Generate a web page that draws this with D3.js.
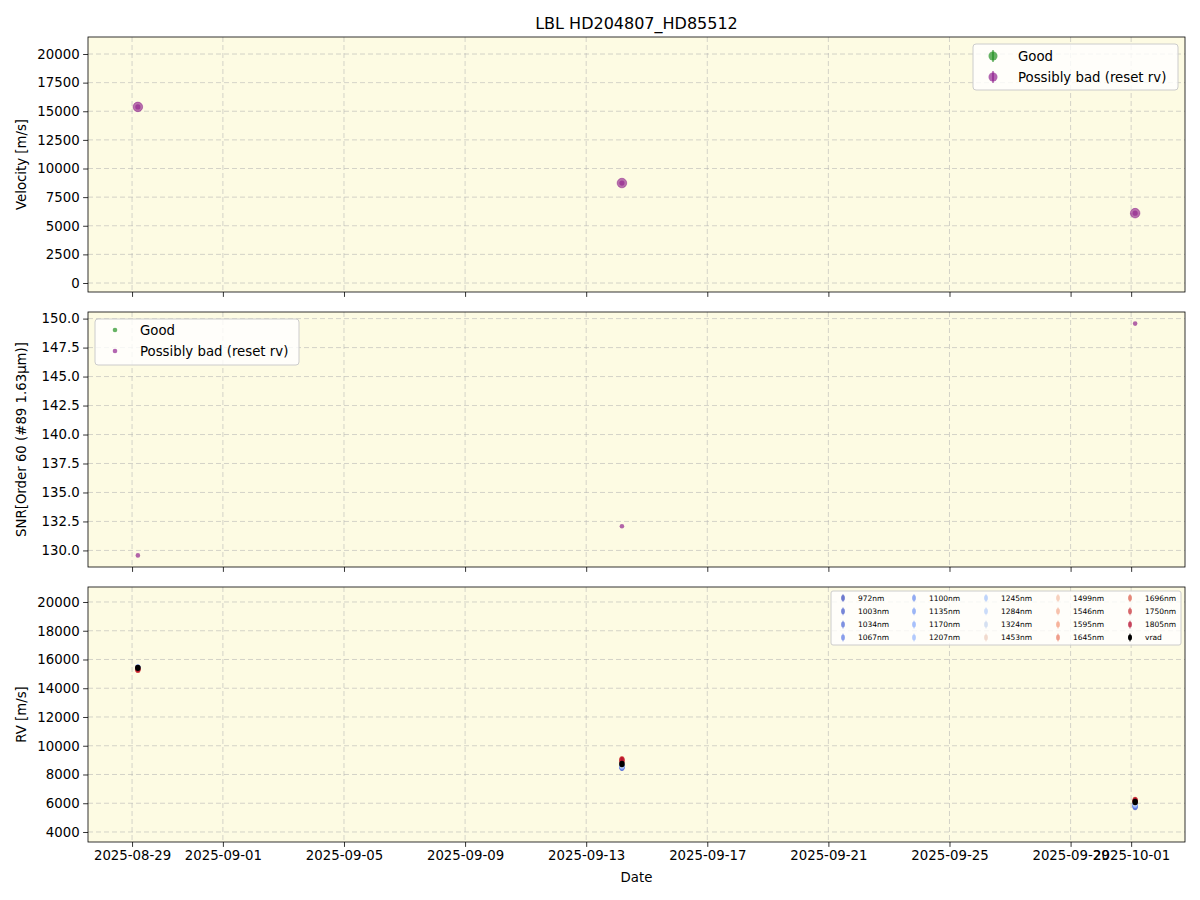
<!DOCTYPE html>
<html><head><meta charset="utf-8">
<script src="https://cdn.jsdelivr.net/npm/d3@7"></script>
<style>body{margin:0;background:#fff} text{font-family:"DejaVu Sans",sans-serif;fill:#000}</style>
</head><body><svg id="c" width="1200" height="900"></svg>
<script>
const title = "LBL HD204807_HD85512";
const dates = ["2025-08-29T04:36:00Z", "2025-09-14T04:20:00Z", "2025-10-01T03:10:00Z"];
const velocity = [15380, 8730, 6100];
const snr = [129.57, 132.08, 149.57];
const vrad = [15420, 8730, 6090];
const wavelengths = ["972nm","1003nm","1034nm","1067nm","1100nm","1135nm","1170nm","1207nm","1245nm","1284nm","1324nm","1453nm","1499nm","1546nm","1595nm","1645nm","1696nm","1750nm","1805nm"];
const rvEpoch1 = [15380,15400,15360,15410,15390,15420,15370,15400,15430,15410,15380,15350,15320,15300,15340,15310,15330,15290,15360];
const rvEpoch2 = [8480,8520,8550,8500,8560,8600,8580,8620,8650,8700,8680,8800,8850,8900,8950,9000,9050,9020,8980];
const rvEpoch3 = [5750,5800,5850,5780,5870,5900,5950,5930,6000,6050,6020,6100,6120,6150,6180,6200,6170,6220,6160];
const xTicks = ["2025-08-29","2025-09-01","2025-09-05","2025-09-09","2025-09-13","2025-09-17","2025-09-21","2025-09-25","2025-09-29","2025-10-01"];
const velTicks = [0,2500,5000,7500,10000,12500,15000,17500,20000];
const snrTicks = [130.0,132.5,135.0,137.5,140.0,142.5,145.0,147.5,150.0];
const rvTicks = [4000,6000,8000,10000,12000,14000,16000,18000,20000];

const svg = d3.select("#c");
const L = 88, R = 1185;
const panels = [[37,292],[312,567],[587,842]];
const bg = "#fdfbe3";
const parse = d3.utcParse("%Y-%m-%dT%H:%M:%SZ");
const pd = d3.utcParse("%Y-%m-%d");
const t = dates.map(parse);
const tmin = d3.min(t), tmax = d3.max(t), span = tmax - tmin;
const x = d3.scaleUtc().domain([new Date(+tmin - 0.05*span), new Date(+tmax + 0.05*span)]).range([L, R]);
const tickDates = xTicks.map(pd);

const coolwarm = d3.piecewise(d3.interpolateRgb, ["#3b4cc0","#6282ea","#8db0fe","#b8d0f9","#dddddd","#f5c4ac","#f4987a","#dc5d4a","#b40426"]);
const wnum = wavelengths.map(w=>parseFloat(w));
const wscale = d3.scaleLinear().domain(d3.extent(wnum)).range([0,1]);
const wcol = wnum.map(w=>coolwarm(wscale(w)));

function panel(idx, domain, ticks, fmt, label, showX) {
  const [top, bot] = panels[idx];
  const y = d3.scaleLinear().domain(domain).range([bot, top]);
  const g = svg.append("g");
  g.append("rect").attr("x",L).attr("y",top).attr("width",R-L).attr("height",bot-top).attr("fill",bg);
  g.selectAll(".gx").data(tickDates).enter().append("line")
    .attr("x1",d=>x(d)).attr("x2",d=>x(d)).attr("y1",top).attr("y2",bot)
    .attr("stroke","#b0b0b0").attr("stroke-opacity",0.6).attr("stroke-dasharray","5,3").attr("stroke-width",0.9);
  g.selectAll(".gy").data(ticks).enter().append("line")
    .attr("x1",L).attr("x2",R).attr("y1",d=>y(d)).attr("y2",d=>y(d))
    .attr("stroke","#b0b0b0").attr("stroke-opacity",0.6).attr("stroke-dasharray","5,3").attr("stroke-width",0.9);
  const ya = d3.axisLeft(y).tickValues(ticks).tickFormat(fmt).tickSize(4.9).tickPadding(3.5);
  const ga = g.append("g").attr("transform",`translate(${L},0)`).call(ya);
  ga.select(".domain").remove();
  ga.selectAll("text").style("font-size","13.3px").style("font-family","DejaVu Sans");
  ga.selectAll("line").attr("stroke-width",0.8);
  const xa = d3.axisBottom(x).tickValues(tickDates).tickFormat(showX ? d3.utcFormat("%Y-%m-%d") : "").tickSize(4.9).tickPadding(3.5);
  const gx = g.append("g").attr("transform",`translate(0,${bot})`).call(xa);
  gx.select(".domain").remove();
  gx.selectAll("text").style("font-size","13.3px").style("font-family","DejaVu Sans");
  gx.selectAll("line").attr("stroke-width",0.8);
  g.append("rect").attr("x",L).attr("y",top).attr("width",R-L).attr("height",bot-top).attr("fill","none").attr("stroke","#000").attr("stroke-width",0.8);
  g.append("text").attr("transform",`translate(26,${(top+bot)/2}) rotate(-90)`).attr("text-anchor","middle")
    .style("font-size","13.3px").text(label);
  return {g, y};
}

svg.append("text").attr("x",(L+R)/2).attr("y",29).attr("text-anchor","middle").style("font-size","16px").text(title);

// Panel 1
const p1 = panel(0, [-786, 21485], velTicks, d3.format("d"), "Velocity [m/s]", false);
const purple = "#800080", green = "#008000";
p1.g.selectAll(".v").data(velocity).enter().append("circle")
  .attr("cx",(d,i)=>x(t[i])).attr("cy",d=>p1.y(d)).attr("r",4.8)
  .attr("fill",purple).attr("fill-opacity",0.55).attr("stroke",purple).attr("stroke-opacity",0.4);
p1.g.selectAll(".v2").data(velocity).enter().append("circle")
  .attr("cx",(d,i)=>x(t[i])).attr("cy",d=>p1.y(d)).attr("r",2.6)
  .attr("fill",purple).attr("fill-opacity",0.45);
{
  const lg = p1.g.append("g");
  lg.append("rect").attr("x",973).attr("y",44).attr("width",205).attr("height",46).attr("rx",3)
    .attr("fill","#fff").attr("fill-opacity",0.8).attr("stroke","#ccc");
  const items = [["Good",green],["Possibly bad (reset rv)",purple]];
  items.forEach((it,i)=>{
    const yy = 56 + i*21;
    lg.append("line").attr("x1",993).attr("x2",993).attr("y1",yy-6).attr("y2",yy+6).attr("stroke",it[1]).attr("stroke-opacity",0.6).attr("stroke-width",1.5);
    lg.append("circle").attr("cx",993).attr("cy",yy).attr("r",4.5).attr("fill",it[1]).attr("fill-opacity",0.6);
    lg.append("text").attr("x",1018).attr("y",yy+5).style("font-size","13.3px").text(it[0]);
  });
}

// Panel 2
const p2 = panel(1, [128.57, 150.57], snrTicks, d3.format(".1f"), "SNR[Order 60 (#89 1.63µm)]", false);
p2.g.selectAll(".s").data(snr).enter().append("circle")
  .attr("cx",(d,i)=>x(t[i])).attr("cy",d=>p2.y(d)).attr("r",2.3)
  .attr("fill",purple).attr("fill-opacity",0.6);
{
  const lg = p2.g.append("g");
  lg.append("rect").attr("x",95).attr("y",319).attr("width",204).attr("height",46).attr("rx",3)
    .attr("fill","#fff").attr("fill-opacity",0.8).attr("stroke","#ccc");
  const items = [["Good",green],["Possibly bad (reset rv)",purple]];
  items.forEach((it,i)=>{
    const yy = 330 + i*21;
    lg.append("circle").attr("cx",115).attr("cy",yy).attr("r",2.3).attr("fill",it[1]).attr("fill-opacity",0.6);
    lg.append("text").attr("x",140).attr("y",yy+5).style("font-size","13.3px").text(it[0]);
  });
}

// Panel 3
const p3 = panel(2, [3304, 21043], rvTicks, d3.format("d"), "RV [m/s]", true);
const epochs = [rvEpoch1, rvEpoch2, rvEpoch3];
wavelengths.forEach((w,wi)=>{
  epochs.forEach((ep,ei)=>{
    const cx = x(t[ei]), cy = p3.y(ep[wi]);
    p3.g.append("line").attr("x1",cx).attr("x2",cx).attr("y1",cy-3).attr("y2",cy+3).attr("stroke",wcol[wi]).attr("stroke-opacity",0.6);
    p3.g.append("ellipse").attr("cx",cx).attr("cy",cy).attr("rx",2.6).attr("ry",3.4).attr("fill",wcol[wi]).attr("fill-opacity",0.6);
  });
});
p3.g.selectAll(".vr").data(vrad).enter().append("ellipse")
  .attr("cx",(d,i)=>x(t[i])).attr("cy",d=>p3.y(d)).attr("rx",2.8).attr("ry",3.2).attr("fill","#000");
{
  const lg = p3.g.append("g");
  lg.append("rect").attr("x",831).attr("y",591).attr("width",350).attr("height",54).attr("rx",2)
    .attr("fill","#fff").attr("fill-opacity",0.8).attr("stroke","#ccc");
  const entries = wavelengths.map((w,i)=>[w,wcol[i],0.65]).concat([["vrad","#000",1]]);
  const colM = [843,914,986,1058,1130], rowY = [598,611.3,624.6,637.5];
  entries.forEach((e,i)=>{
    const c = Math.floor(i/4), r = i%4;
    const mx = colM[c], my = rowY[r];
    lg.append("line").attr("x1",mx).attr("x2",mx).attr("y1",my-4).attr("y2",my+4).attr("stroke",e[1]).attr("stroke-opacity",e[2]*0.8);
    lg.append("ellipse").attr("cx",mx).attr("cy",my).attr("rx",2).attr("ry",3).attr("fill",e[1]).attr("fill-opacity",e[2]);
    lg.append("text").attr("x",mx+15).attr("y",my+2.7).style("font-size","7.5px").text(e[0]);
  });
}

svg.append("text").attr("x",(L+R)/2).attr("y",882).attr("text-anchor","middle").style("font-size","13.3px").text("Date");
</script></body></html>
